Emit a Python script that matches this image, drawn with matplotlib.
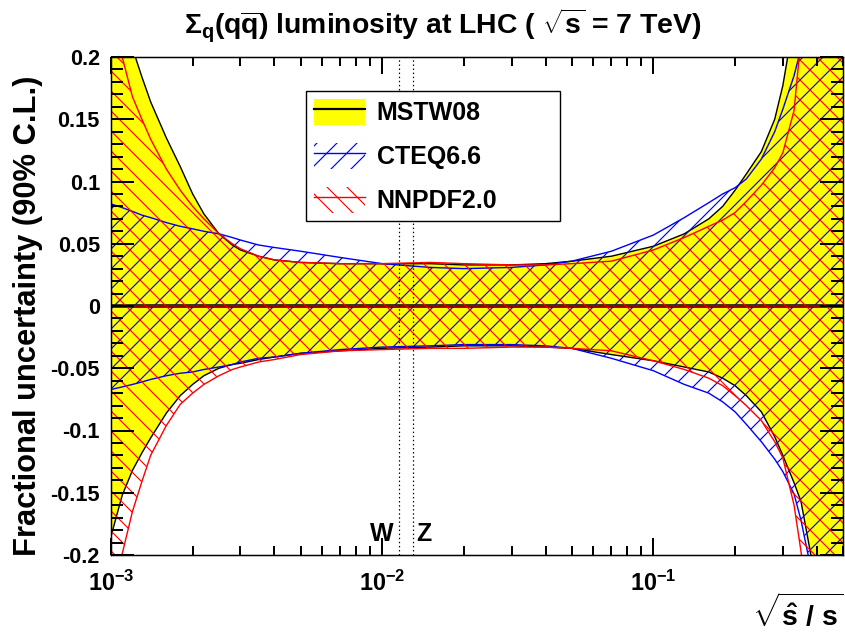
import numpy as np
import matplotlib
matplotlib.use("Agg")
import matplotlib.pyplot as plt
from matplotlib import font_manager
from matplotlib.patches import Patch
from matplotlib.lines import Line2D
from matplotlib.ticker import FixedLocator, FixedFormatter, LogLocator, MultipleLocator, NullFormatter

# ---------------------------------------------------------------- data
# sqrt(shat/s) grid
x = [0.001, 0.0011, 0.0012, 0.0013, 0.0014, 0.0016, 0.0018, 0.002, 0.0022, 0.0025,
     0.0028, 0.003, 0.0035, 0.004, 0.005, 0.007, 0.01, 0.015, 0.02, 0.03,
     0.04, 0.05, 0.07, 0.1, 0.13, 0.16, 0.18, 0.2, 0.22, 0.25,
     0.28, 0.3, 0.33, 0.35, 0.38, 0.4, 0.45, 0.5]

# fractional uncertainty bands (90% C.L.)
mstw_up = [0.26, 0.232, 0.207, 0.184, 0.164, 0.135, 0.112, 0.090, 0.074, 0.058,
           0.049, 0.045, 0.040, 0.037, 0.035, 0.034, 0.034, 0.034, 0.033, 0.033,
           0.034, 0.036, 0.040, 0.048, 0.058, 0.070, 0.080, 0.093, 0.106, 0.124,
           0.150, 0.177, 0.23, 0.27, 0.34, 0.38, 0.48, 0.60]
mstw_lo = [-0.185, -0.152, -0.132, -0.118, -0.106, -0.086, -0.072, -0.063, -0.056, -0.050,
           -0.047, -0.046, -0.043, -0.041, -0.038, -0.036, -0.034, -0.033, -0.032, -0.032,
           -0.033, -0.034, -0.039, -0.044, -0.049, -0.053, -0.058, -0.064, -0.072, -0.085,
           -0.105, -0.120, -0.142, -0.157, -0.199, -0.23, -0.32, -0.42]
cteq_up = [0.082, 0.079, 0.076, 0.073, 0.071, 0.067, 0.064, 0.062, 0.060, 0.058,
           0.055, 0.053, 0.049, 0.047, 0.044, 0.039, 0.034, 0.031, 0.030, 0.031,
           0.033, 0.036, 0.044, 0.057, 0.071, 0.083, 0.090, 0.095, 0.102, 0.118,
           0.140, 0.158, 0.185, 0.207, 0.25, 0.28, 0.36, 0.45]
cteq_lo = [-0.067, -0.065, -0.063, -0.061, -0.059, -0.056, -0.054, -0.053, -0.051, -0.049,
           -0.047, -0.045, -0.042, -0.041, -0.038, -0.035, -0.033, -0.032, -0.031, -0.031,
           -0.032, -0.034, -0.042, -0.052, -0.063, -0.070, -0.077, -0.085, -0.095, -0.109,
           -0.123, -0.133, -0.151, -0.172, -0.21, -0.24, -0.33, -0.43]
nnpdf_up = [0.24, 0.200, 0.168, 0.150, 0.134, 0.110, 0.093, 0.080, 0.070, 0.058,
            0.050, 0.046, 0.040, 0.037, 0.035, 0.034, 0.034, 0.035, 0.034, 0.033,
            0.033, 0.034, 0.036, 0.045, 0.055, 0.064, 0.069, 0.075, 0.084, 0.097,
            0.111, 0.123, 0.157, 0.215, 0.30, 0.35, 0.45, 0.55]
nnpdf_lo = [-0.236, -0.199, -0.165, -0.141, -0.120, -0.096, -0.079, -0.070, -0.063, -0.056,
            -0.051, -0.049, -0.045, -0.043, -0.039, -0.036, -0.035, -0.034, -0.034, -0.033,
            -0.033, -0.034, -0.036, -0.044, -0.051, -0.058, -0.064, -0.072, -0.080, -0.092,
            -0.109, -0.122, -0.160, -0.197, -0.26, -0.30, -0.40, -0.50]

set_names = ["MSTW08", "CTEQ6.6", "NNPDF2.0"]

boson_names = ["W", "Z"]
boson_mass = [80.4, 91.19]      # GeV
sqrt_s = 7000.0                  # GeV

xtick_vals = [1e-3, 1e-2, 1e-1]
xtick_labels = [r"$\mathsf{10^{-3}}$", r"$\mathsf{10^{-2}}$", r"$\mathsf{10^{-1}}$"]
ytick_vals = [-0.2, -0.15, -0.1, -0.05, 0.0, 0.05, 0.1, 0.15, 0.2]
ytick_labels = ["-0.2", "-0.15", "-0.1", "-0.05", "0", "0.05", "0.1", "0.15", "0.2"]

# ---------------------------------------------------------------- style
DPI = 120
PT = 72.0 / DPI  # points per pixel

installed = {f.name for f in font_manager.fontManager.ttflist}
narrow = "Liberation Sans Narrow" if "Liberation Sans Narrow" in installed else "Liberation Sans"

plt.rcParams.update({
    "font.family": "Liberation Sans",
    "font.weight": "bold",
    "mathtext.fontset": "custom",
    "mathtext.rm": f"{narrow}:bold",
    "mathtext.it": f"{narrow}:bold",
    "mathtext.bf": f"{narrow}:bold",
    "mathtext.sf": "Liberation Sans:bold",
    "hatch.linewidth": 0.7,
    "axes.linewidth": 1.5 * PT,
})

YELLOW = "#ffff00"
BLUE = "#0000ff"
RED = "#ff0000"

fig = plt.figure(figsize=(845 / DPI, 632 / DPI), dpi=DPI)
fig.patch.set_facecolor("white")
ax = fig.add_axes([111 / 845, 77 / 632, 732 / 845, 498 / 632])

xa = np.asarray(x)
zero = np.zeros_like(xa)

# MSTW08: solid yellow band with black edges
ax.fill_between(xa, mstw_lo, mstw_up, facecolor=YELLOW, edgecolor="none", lw=0, zorder=1)
ax.plot(xa, mstw_up, color="k", lw=1.4 * PT, zorder=2)
ax.plot(xa, mstw_lo, color="k", lw=1.4 * PT, zorder=2)
ax.plot(xa, zero, color="k", lw=3.5 * PT, zorder=2)

# CTEQ6.6: blue forward hatch
ax.fill_between(xa, cteq_lo, cteq_up, facecolor="none", edgecolor=BLUE, hatch="//", lw=0, zorder=3)
ax.plot(xa, cteq_up, color=BLUE, lw=1.4 * PT, zorder=4)
ax.plot(xa, cteq_lo, color=BLUE, lw=1.4 * PT, zorder=4)

# NNPDF2.0: red backward hatch
ax.fill_between(xa, nnpdf_lo, nnpdf_up, facecolor="none", edgecolor=RED, hatch="\\\\", lw=0, zorder=5)
ax.plot(xa, nnpdf_up, color=RED, lw=1.4 * PT, zorder=6)
ax.plot(xa, nnpdf_lo, color=RED, lw=1.4 * PT, zorder=6)
ax.plot(xa, zero, color="#c00000", lw=1.6 * PT, zorder=6)

# W and Z positions
for name, m in zip(boson_names, boson_mass):
    xb = m / sqrt_s
    ax.axvline(xb, color="k", lw=1.2 * PT, ls=(0, (1.2, 2.2)), zorder=8)
    dx, ha = (-5 * PT, "right") if name == "W" else (3 * PT, "left")
    ax.annotate(name, (xb, -0.183), xytext=(dx, 0), textcoords="offset points",
                ha=ha, va="center", fontsize=15, fontweight="bold", zorder=9)

# axes
ax.set_xscale("log")
ax.set_xlim(1e-3, 0.5)
ax.set_ylim(-0.2, 0.2)
ax.xaxis.set_major_locator(FixedLocator(xtick_vals))
ax.xaxis.set_major_formatter(FixedFormatter(xtick_labels))
ax.xaxis.set_minor_locator(LogLocator(base=10, subs=np.arange(2, 10) * 1.0, numticks=20))
ax.xaxis.set_minor_formatter(NullFormatter())
ax.yaxis.set_major_locator(FixedLocator(ytick_vals))
ax.yaxis.set_major_formatter(FixedFormatter(ytick_labels))
ax.yaxis.set_minor_locator(MultipleLocator(0.01))

ax.tick_params(which="both", direction="in", top=True, right=True, color="k", labelcolor="k")
ax.tick_params(axis="y", which="major", length=23 * PT, width=2 * PT, pad=11 * PT, labelsize=13)
ax.tick_params(axis="y", which="minor", length=12 * PT, width=2 * PT)
ax.tick_params(axis="x", which="major", length=17 * PT, width=2 * PT, pad=16 * PT, labelsize=14)
ax.tick_params(axis="x", which="minor", length=9 * PT, width=2 * PT)
ax.xaxis.set_zorder(20)
ax.yaxis.set_zorder(20)
for sp in ax.spines.values():
    sp.set_zorder(21)

ax.set_ylabel("Fractional uncertainty (90% C.L.)", fontsize=18.5, fontweight="bold")
ax.yaxis.set_label_coords((43 - 111) / 732, 0.48)

fig.text(843 / 845, 1 - 612 / 632, r"$\sqrt{\mathsf{\hat{s}\ /\ s}}$",
         ha="right", va="center", fontsize=17)

fig.text(443 / 845, 1 - 26 / 632,
         r"$\Sigma_{q}(q\overline{q})$ luminosity at LHC ( $\sqrt{s}$ = 7 TeV)",
         ha="center", va="center", fontsize=17, family=narrow, fontweight="bold")

# legend
handles = [
    (Patch(facecolor=YELLOW, edgecolor="none", lw=0), Line2D([], [], color="k", lw=2.2 * PT)),
    (Patch(facecolor="none", edgecolor=BLUE, hatch="//", lw=0), Line2D([], [], color=BLUE, lw=1.4 * PT)),
    (Patch(facecolor="none", edgecolor=RED, hatch="\\\\", lw=0), Line2D([], [], color=RED, lw=1.4 * PT)),
]
leg = ax.legend(handles, set_names, loc="upper left",
                bbox_to_anchor=(306 / 845, 1 - 224 / 632, (560 - 306) / 845, (224 - 91) / 632),
                bbox_transform=fig.transFigure, mode="expand", borderaxespad=0,
                prop={"size": 15, "weight": "bold"}, handlelength=2.04, handleheight=1.24,
                handletextpad=0.48, labelspacing=0.7, borderpad=0.3,
                fancybox=False, framealpha=1, edgecolor="k")
leg.get_frame().set_linewidth(1.4 * PT)
leg.set_zorder(30)

fig.savefig("out.png", dpi=DPI, facecolor="white")
